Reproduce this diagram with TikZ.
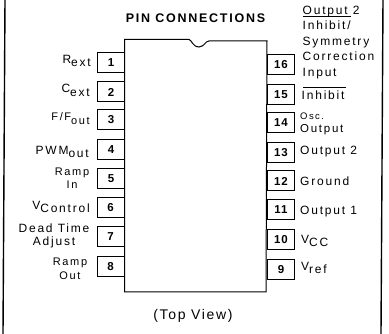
\documentclass[tikz,border=0pt]{standalone}
\usepackage{fontspec}
\setmainfont{Liberation Sans}
\newfontfamily\spaced[LetterSpace=15]{Liberation Sans}
\newfontfamily\spacedb[LetterSpace=8]{Liberation Sans}
\newfontfamily\spacedt[LetterSpace=14]{Liberation Sans}
\newfontfamily\spacedv[LetterSpace=12]{Liberation Sans}
\newcommand{\subt}[1]{\raisebox{-3.5pt}{#1}}
\newcommand{\fsmall}{\spaced\fontsize{11}{15.5}\selectfont}
\newcommand{\fbig}{\spaced\fontsize{12}{15.5}\selectfont}
\tikzset{
  pinbox/.style={draw=black,line width=1pt,minimum width=27pt,minimum height=20pt,inner sep=0pt,font=\spacedb\fontsize{11.5}{12}\selectfont\bfseries},
  lbl/.style={inner sep=0pt,font=\fbig,text=black},
  leftlbl/.style={lbl,anchor=east,align=right},
  rightlbl/.style={lbl,anchor=west,align=left},
  midlbl/.style={lbl,align=center},
  frameline/.style={draw=black,line width=1.4pt},
  bodyline/.style={draw=black,line width=1pt}
}
\begin{document}
\begin{tikzpicture}[x=1pt,y=-1pt]
\useasboundingbox (0,0) rectangle (389,334);
\fill[white] (0,0) rectangle (389,334);
\coordinate (fl1) at (5,0);
\coordinate (fl2) at (3,334);
\coordinate (fr1) at (383,0);
\coordinate (fr2) at (381,334);
\draw[frameline] (fl1) -- (fl2);
\draw[frameline] (fr1) -- (fr2);
\draw[bodyline] (124.5,292) -- (124.5,39.5) -- (189,39.5)
  .. controls (192,40) and (192,46.5) .. (199,47)
  .. controls (205,46.5) and (205,41) .. (209,41)
  -- (267,41) -- (266,292) -- cycle;
\node[font=\spacedt\fontsize{12.5}{13}\selectfont\bfseries,inner sep=0pt] (title) at (195.5,18.5) {PIN CONNECTIONS};
\node[pinbox] (p1) at (111,63) {1};
\node[pinbox] (p2) at (111,92) {2};
\node[pinbox] (p3) at (111,120) {3};
\node[pinbox] (p4) at (111,150) {4};
\node[pinbox] (p5) at (111,179) {5};
\node[pinbox] (p6) at (110.5,208) {6};
\node[pinbox] (p7) at (110.5,237) {7};
\node[pinbox] (p8) at (110.5,267) {8};
\node[pinbox] (p16) at (281,65) {16};
\node[pinbox] (p15) at (281,95) {15};
\node[pinbox] (p14) at (281,123) {14};
\node[pinbox] (p13) at (281,153) {13};
\node[pinbox] (p12) at (281,181) {12};
\node[pinbox] (p11) at (281,210) {11};
\node[pinbox] (p10) at (281,239.5) {10};
\node[pinbox] (p9) at (281,269.5) {9};
\node[leftlbl] (l1) at (91,61) {R\subt{ext}};
\node[leftlbl] (l2) at (90,90.5) {C\subt{ext}};
\node[leftlbl,font=\fsmall] (l3) at (90,118.5) {F/F\subt{out}};
\node[leftlbl] (l4) at (89,152) {PWM\subt{out}};
\node[midlbl,font=\fsmall] (l5) at (72,178) {Ramp\\[-3pt]In};
\node[leftlbl] (l6) at (90,207) {V\subt{Control}};
\node[midlbl] (l7) at (54,236) {Dead Time\\[-3pt]Adjust};
\node[midlbl,font=\fsmall] (l8) at (70,269) {Ramp\\[-1pt]Out};
\node[rightlbl] (o16) at (302.5,42.5) {Output 2\\Inhibit/\\Symmetry\\Correction\\Input};
\coordinate (ula) at (303,16.5);
\coordinate (ulb) at (351,16.5);
\draw[black,line width=0.8pt] (ula) -- (ulb);
\node[rightlbl] (o15) at (301.5,95) {Inhibit};
\coordinate (ola) at (303,87);
\coordinate (olb) at (346,87);
\draw[black,line width=0.8pt] (ola) -- (olb);
\node[rightlbl,font=\spaced\fontsize{10}{12.5}\selectfont] (o14) at (300,124) {\fontsize{9.5}{12.5}\selectfont Osc.\\\fontsize{11.5}{12.5}\selectfont Output};
\node[rightlbl] (o13) at (300,152) {Output 2};
\node[rightlbl] (o12) at (300,181.5) {Ground};
\node[rightlbl] (o11) at (300,212) {Output 1};
\node[rightlbl] (o10) at (301,241) {V\subt{CC}};
\node[rightlbl] (o9) at (301,268) {V\subt{ref}};
\node[font=\spacedv\fontsize{14}{15}\selectfont,inner sep=0pt] (view) at (193,316) {(Top View)};
\end{tikzpicture}
\end{document}
